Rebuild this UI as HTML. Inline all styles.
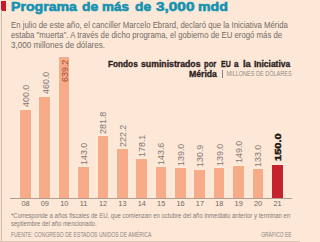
<!DOCTYPE html>
<html><head><meta charset="utf-8">
<style>
html,body{margin:0;padding:0}
body{width:300px;height:242px;position:relative;overflow:hidden;background:#fde8d8;font-family:"Liberation Sans",sans-serif}
.abs{position:absolute;white-space:nowrap}
#redbar{position:absolute;left:1px;top:1px;width:5px;height:9.5px;background:#c8192d}
#vline{position:absolute;left:1px;top:10px;width:1px;height:232px;background:#d2baa8}
#bline{position:absolute;left:0;top:241px;width:300px;height:1px;background:#dcc5b4}
.tw{position:absolute;top:0.2px;font-weight:bold;font-size:12.4px;line-height:14px;color:#1592b0;-webkit-text-stroke:0.6px #1592b0;transform-origin:0 0;white-space:nowrap}
.body{position:absolute;left:11px;font-size:8.2px;line-height:10px;color:#726a64;white-space:nowrap;transform-origin:0 0}
.ctw{top:59px;}
.ctw,#ct2{position:absolute;font-weight:bold;font-size:8.5px;line-height:10px;color:#2a201c;-webkit-text-stroke:0.3px #2a201c;white-space:nowrap;transform-origin:0 0}
#units{position:absolute;font-size:7.2px;line-height:8px;color:#8f8883;white-space:nowrap;transform-origin:100% 0}
#pipe{position:absolute;left:222px;top:70px;width:1px;height:7.5px;background:#8a817c}
.bar{position:absolute;box-shadow:0 0 2.5px 0.8px rgba(255,243,226,.5)}
.lab{position:absolute;font-size:8.4px;line-height:9px;color:#827a76;white-space:nowrap;transform-origin:0 0;transform:rotate(-90deg) scaleX(1.065)}
.lab.in{color:#a14e38}
.lab.big{font-weight:bold;font-size:9.6px;line-height:11px;color:#1e1512;-webkit-text-stroke:0.45px #1e1512;transform:rotate(-90deg) scaleX(1.15)}
#axisline{position:absolute;left:10px;top:198px;width:282px;height:1px;background:#b39d90}
.ax{position:absolute;text-align:center;font-size:7.4px;line-height:9px;color:#6f6863}
.fn{position:absolute;left:11px;font-size:6.4px;line-height:8px;color:#857c77;white-space:nowrap;transform-origin:0 0}
#src{position:absolute;left:10.5px;top:230.7px;font-size:6.6px;line-height:8px;color:#8c837e;white-space:nowrap;transform-origin:0 0}
#gr{position:absolute;top:230.7px;font-size:6.6px;line-height:8px;color:#8c837e;white-space:nowrap;transform-origin:100% 0}
</style></head><body>
<div id="redbar"></div>
<div id="vline"></div>
<div id="bline"></div>
<div class="tw" style="left:10.56px;transform:scaleX(1.139)">Programa</div><div class="tw" style="left:81.50px;transform:scaleX(1.121)">de</div><div class="tw" style="left:101.72px;transform:scaleX(1.083)">más</div><div class="tw" style="left:134.80px;transform:scaleX(1.114)">de</div><div class="tw" style="left:155.60px;transform:scaleX(1.239)">3,000</div><div class="tw" style="left:197.86px;transform:scaleX(1.140)">mdd</div>
<div class="body" id="b1" style="top:20.7px;transform:scaleX(0.952)">En julio de este año, el canciller Marcelo Ebrard, declaró que la Iniciativa Mérida</div>
<div class="body" id="b2" style="top:30.7px;transform:scaleX(0.952)">estaba "muerta". A través de dicho programa, el gobierno de EU erogó más de</div>
<div class="body" id="b3" style="top:40.7px;transform:scaleX(0.984)">3,000 millones de dólares.</div>
<div class="ctw" style="left:108.00px;transform:scaleX(0.968)">Fondos</div><div class="ctw" style="left:141.00px;transform:scaleX(1.024)">suministrados</div><div class="ctw" style="left:204.00px;transform:scaleX(0.893)">por</div><div class="ctw" style="left:221.00px;transform:scaleX(0.817)">EU</div><div class="ctw" style="left:234.00px;transform:scaleX(0.960)">a</div><div class="ctw" style="left:242.70px;transform:scaleX(1.100)">la</div><div class="ctw" style="left:254.20px;transform:scaleX(0.995)">Iniciativa</div>
<div id="ct2" style="left:189px;top:69.3px;transform:scaleX(1.02)">Mérida</div>
<div id="pipe"></div>
<div id="units" style="right:8.5px;top:70.3px;transform:scaleX(0.77)">MILLONES DE DÓLARES</div>
<div class="bar" style="left:20.00px;top:110.10px;width:10.6px;height:88.40px;background:#f7ab88"></div><div class="bar" style="left:39.39px;top:96.84px;width:10.6px;height:101.66px;background:#f7ab88"></div><div class="bar" style="left:58.77px;top:57.24px;width:10.6px;height:141.26px;background:#f7ab88"></div><div class="bar" style="left:78.16px;top:166.90px;width:10.6px;height:31.60px;background:#f7ab88"></div><div class="bar" style="left:97.54px;top:136.22px;width:10.6px;height:62.28px;background:#f7ab88"></div><div class="bar" style="left:116.93px;top:149.39px;width:10.6px;height:49.11px;background:#f7ab88"></div><div class="bar" style="left:136.31px;top:159.14px;width:10.6px;height:39.36px;background:#f7ab88"></div><div class="bar" style="left:155.70px;top:166.76px;width:10.6px;height:31.74px;background:#f7ab88"></div><div class="bar" style="left:175.08px;top:167.78px;width:10.6px;height:30.72px;background:#f7ab88"></div><div class="bar" style="left:194.47px;top:169.57px;width:10.6px;height:28.93px;background:#f7ab88"></div><div class="bar" style="left:213.85px;top:167.78px;width:10.6px;height:30.72px;background:#f7ab88"></div><div class="bar" style="left:233.24px;top:165.57px;width:10.6px;height:32.93px;background:#f7ab88"></div><div class="bar" style="left:252.62px;top:169.11px;width:10.6px;height:29.39px;background:#f7ab88"></div><div class="bar" style="left:272.00px;top:165.35px;width:10.6px;height:33.15px;background:#c4222e"></div>
<div id="axisline"></div>
<div class="lab" style="left:21.70px;top:106.80px">400.0</div><div class="lab" style="left:41.59px;top:94.04px">460.0</div><div class="lab in" style="left:60.77px;top:81.80px">639.2</div><div class="lab" style="left:79.86px;top:164.80px">143.0</div><div class="lab" style="left:99.24px;top:134.12px">281.8</div><div class="lab" style="left:118.63px;top:147.29px">222.2</div><div class="lab" style="left:138.01px;top:157.04px">178.1</div><div class="lab" style="left:157.40px;top:164.66px">143.6</div><div class="lab" style="left:176.78px;top:165.68px">139.0</div><div class="lab" style="left:196.17px;top:167.47px">130.9</div><div class="lab" style="left:215.55px;top:165.68px">139.0</div><div class="lab" style="left:234.94px;top:163.47px">149.0</div><div class="lab" style="left:254.32px;top:167.01px">133.0</div><div class="lab big" style="left:271.70px;top:160.55px">150.0</div>
<div class="ax" style="left:15.50px;top:199.4px;width:20px">08</div><div class="ax" style="left:34.89px;top:199.4px;width:20px">09</div><div class="ax" style="left:54.27px;top:199.4px;width:20px">10</div><div class="ax" style="left:73.66px;top:199.4px;width:20px">11</div><div class="ax" style="left:93.04px;top:199.4px;width:20px">12</div><div class="ax" style="left:112.43px;top:199.4px;width:20px">13</div><div class="ax" style="left:131.81px;top:199.4px;width:20px">14</div><div class="ax" style="left:151.20px;top:199.4px;width:20px">15</div><div class="ax" style="left:170.58px;top:199.4px;width:20px">16</div><div class="ax" style="left:189.97px;top:199.4px;width:20px">17</div><div class="ax" style="left:209.35px;top:199.4px;width:20px">18</div><div class="ax" style="left:228.74px;top:199.4px;width:20px">19</div><div class="ax" style="left:248.12px;top:199.4px;width:20px">20</div><div class="ax" style="left:267.50px;top:199.4px;width:20px">21</div>
<div class="fn" id="f1" style="top:212.3px;transform:scaleX(0.937)">*Corresponde a años fiscales de EU, que comienzan en octubre del año inmediato anterior y terminan en</div>
<div class="fn" id="f2" style="top:219.5px;transform:scaleX(0.925)">septiembre del año mencionado.</div>
<div id="src" style="transform:scaleX(0.77)">FUENTE: CONGRESO DE ESTADOS UNIDOS DE AMÉRICA</div>
<div id="gr" style="right:8.5px;transform:scaleX(0.75)">GRÁFICO EE</div>
</body></html>
